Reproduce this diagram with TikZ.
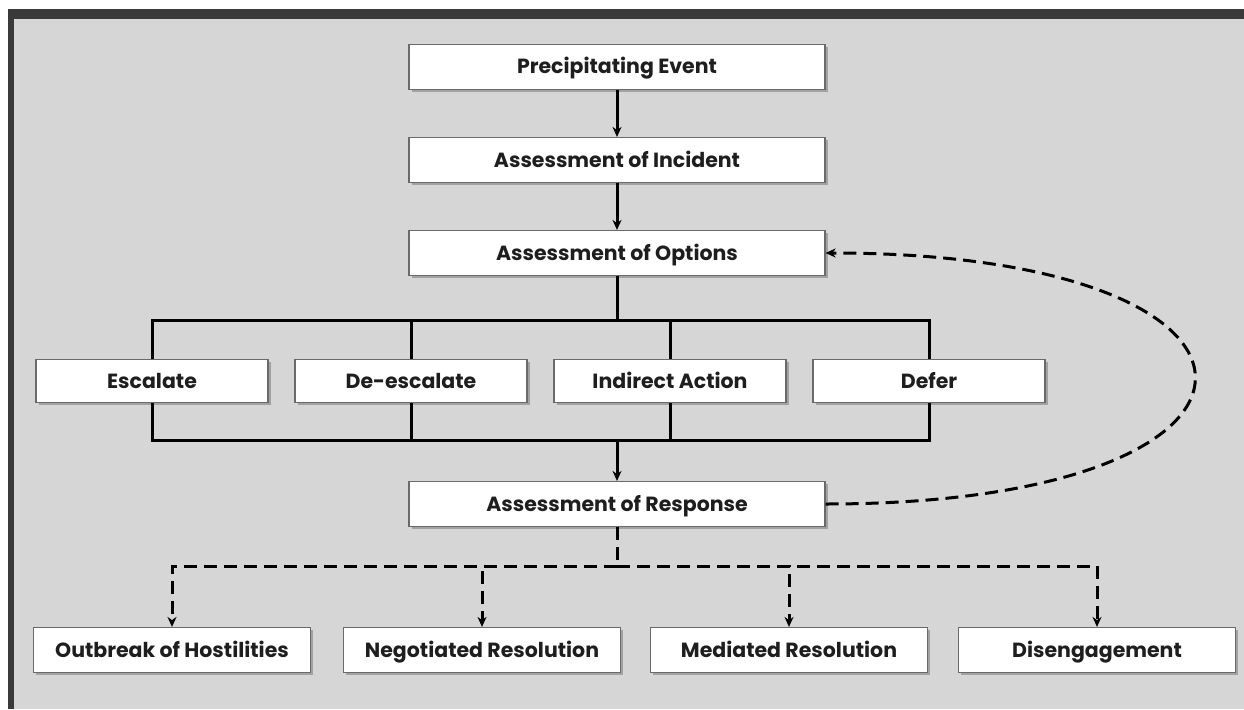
\documentclass[tikz,border=0pt]{standalone}
\usepackage{fontspec}
\setmainfont{Poppins}
\usepackage{tikz}
\usetikzlibrary{positioning, arrows.meta, shadows}
\definecolor{panel}{HTML}{D6D6D6}
\definecolor{frame}{HTML}{3A3A3A}
\definecolor{boxline}{HTML}{6A6A6A}
\definecolor{ink}{HTML}{1E1E1E}

\begin{document}
\begin{tikzpicture}[x=1pt, y=-1pt,
    every node/.style={font=\fontsize{20.5}{24}\selectfont\bfseries, text=ink},
    stagebox/.style={draw=boxline, line width=1.2pt, fill=white, minimum height=45pt, inner sep=0pt,
        text height=14pt, text depth=0pt,
        drop shadow={shadow xshift=2.5pt, shadow yshift=-2.5pt, fill=black!50, opacity=0.6}},
    link/.style={line width=3pt},
    flow/.style={link, -{Stealth[length=10pt,width=9pt]}},
    maybe/.style={link, dash pattern=on 13pt off 7pt}]
    \useasboundingbox (0,0) rectangle (1244,709);
    \fill[white] (0,0) rectangle (1244,709);
    \fill[panel] (8,9) rectangle (1244,709);
    \fill[frame] (8,9) rectangle (1244,19);
    \fill[frame] (8,9) rectangle (14,709);

    \node[stagebox, minimum width=416pt] (event) at (617,67) {Precipitating Event};
    \node[stagebox, minimum width=416pt] (incident) at (617,160) {Assessment of Incident};
    \node[stagebox, minimum width=416pt] (options) at (617,253) {Assessment of Options};
    \foreach \x/\name/\txt in {152/esc/Escalate, 411/deesc/De-escalate, 670/indir/Indirect Action, 929/defer/Defer} {
        \node[stagebox, minimum width=232pt, minimum height=43pt] (\name) at (\x,381) {\txt};
    }
    \node[stagebox, minimum width=416pt] (response) at (617,504) {Assessment of Response};
    \foreach \x/\name/\txt in {172/outbreak/Outbreak of Hostilities, 482/negot/Negotiated Resolution, 789/mediat/Mediated Resolution, 1097/diseng/Disengagement} {
        \node[stagebox, minimum width=277pt] (\name) at (\x,650) {\txt};
    }

    \draw[flow] (event) -- (incident);
    \draw[flow] (incident) -- (options);

    \coordinate (split) at (617,320);
    \coordinate (merge) at (617,440);
    \draw[link] (options.south) -- (split);
    \draw[link] (esc.north) -- (esc |- split) -- (defer |- split) -- (defer.north);
    \draw[link] (esc.south) -- (esc |- merge) -- (defer |- merge) -- (defer.south);
    \foreach \n in {deesc,indir} {
        \draw[link] (\n |- split) -- (\n.north);
        \draw[link] (\n.south) -- (\n |- merge);
    }
    \draw[flow] (merge) -- (response.north);

    \coordinate (fork) at (617,566);
    \draw[maybe] (response.south) -- (fork);
    \foreach \n in {outbreak,negot,mediat,diseng} {
        \draw[maybe, -{Stealth[length=10pt,width=9pt]}] (fork) -| (\n.north);
    }

    \draw[maybe, -{Stealth[length=10pt,width=9pt]}] (response.east) .. controls +(492,0) and +(492,0) .. (options.east);
\end{tikzpicture}
\end{document}
